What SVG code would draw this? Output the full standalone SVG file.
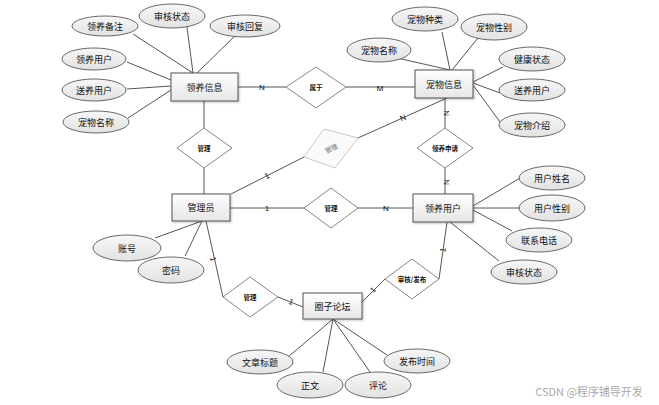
<svg xmlns="http://www.w3.org/2000/svg" width="659" height="405" viewBox="0 0 659 405">
<defs>
<linearGradient id="rg" x1="0" y1="0" x2="0" y2="1"><stop offset="0" stop-color="#ffffff"/><stop offset="1" stop-color="#e6e6e6"/></linearGradient>
<linearGradient id="eg" x1="0" y1="0" x2="0" y2="1"><stop offset="0" stop-color="#f7f7f7"/><stop offset="1" stop-color="#e2e2e2"/></linearGradient>
<filter id="sh" x="-20%" y="-20%" width="140%" height="140%"><feDropShadow dx="1" dy="1" stdDeviation="0.8" flood-color="#000" flood-opacity="0.25"/></filter>
</defs>
<style>
text{font-family:"Noto Sans CJK SC","Liberation Sans",sans-serif;fill:#111;text-anchor:middle;dominant-baseline:central}
.r{fill:url(#rg);stroke:#555;stroke-width:1;filter:url(#sh)}
.e{fill:url(#eg);stroke:#444;stroke-width:0.8}
.d{fill:#fff;stroke:#666;stroke-width:0.8}
.t{font-size:9px}
.dt{font-size:6.5px;font-weight:bold}
.lbl{font-size:8px;font-family:"Liberation Sans",sans-serif}
.c line{stroke:#555;stroke-width:1}
</style>
<rect width="659" height="405" fill="#fff"/>
<g id="connectors" class="c">
<line x1="133" y1="34" x2="193" y2="73"/>
<line x1="187" y1="27" x2="193" y2="73"/>
<line x1="238" y1="33" x2="197" y2="73"/>
<line x1="127" y1="62" x2="171" y2="80"/>
<line x1="127" y1="89" x2="171" y2="86"/>
<line x1="128" y1="118" x2="171" y2="90"/>
<line x1="204" y1="101" x2="204" y2="128"/>
<line x1="204" y1="168" x2="204" y2="194"/>
<line x1="238" y1="87" x2="286" y2="87"/>
<line x1="346" y1="87" x2="415" y2="87"/>
<line x1="397" y1="58" x2="450" y2="70"/>
<line x1="442" y1="32" x2="450" y2="70"/>
<line x1="478" y1="38" x2="452" y2="70"/>
<line x1="503" y1="67" x2="473" y2="82"/>
<line x1="500" y1="93" x2="473" y2="83"/>
<line x1="500" y1="122" x2="473" y2="85"/>
<line x1="445" y1="98" x2="445" y2="128"/>
<line x1="445" y1="168" x2="445" y2="194"/>
<line x1="231" y1="194" x2="304" y2="157"/>
<line x1="358" y1="138" x2="447" y2="98"/>
<line x1="230" y1="208" x2="304" y2="208"/>
<line x1="358" y1="208" x2="413" y2="208"/>
<line x1="520" y1="178" x2="473" y2="206"/>
<line x1="520" y1="208" x2="473" y2="208"/>
<line x1="512" y1="231" x2="473" y2="210"/>
<line x1="499" y1="261" x2="450" y2="222"/>
<line x1="155" y1="238" x2="202" y2="221"/>
<line x1="185" y1="256" x2="202" y2="221"/>
<line x1="206" y1="221" x2="223" y2="297"/>
<line x1="278" y1="297" x2="303" y2="307"/>
<line x1="362" y1="302" x2="385" y2="279"/>
<line x1="439" y1="279" x2="447" y2="222"/>
<line x1="288" y1="357" x2="333" y2="319"/>
<line x1="323" y1="372" x2="333" y2="319"/>
<line x1="370" y1="372" x2="333" y2="319"/>
<line x1="387" y1="355" x2="333" y2="319"/>
</g>
<g id="labels">
<text class="lbl" x="262" y="87">N</text>
<text class="lbl" x="380" y="88">M</text>
<text class="lbl" x="446" y="113" transform="rotate(-90 446 113)">N</text>
<text class="lbl" x="446" y="182" transform="rotate(-90 446 182)">N</text>
<text class="lbl" x="267" y="176" transform="rotate(-27 267 176)">1</text>
<text class="lbl" x="403" y="118" transform="rotate(-24 403 118)">N</text>
<text class="lbl" x="267" y="208">1</text>
<text class="lbl" x="386" y="208">N</text>
<text class="lbl" x="213" y="259" font-size="5" transform="rotate(77 213 259)">1</text>
<text class="lbl" x="291" y="302" font-size="5" transform="rotate(22 291 302)">1</text>
<text class="lbl" x="373" y="290" font-size="5" transform="rotate(-45 373 290)">1</text>
<text class="lbl" x="443" y="250" font-size="5" transform="rotate(-82 443 250)">1</text>
</g>
<g id="e-lyinfo">
<rect class="r" x="171" y="73" width="67" height="28"/>
<text class="t" x="204.5" y="87">领养信息</text>
</g>
<g id="e-petinfo">
<rect class="r" x="415" y="70" width="58" height="28"/>
<text class="t" x="444" y="84">宠物信息</text>
</g>
<g id="e-admin">
<rect class="r" x="172" y="194" width="58" height="27"/>
<text class="t" x="201" y="207.5">管理员</text>
</g>
<g id="e-lyuser">
<rect class="r" x="413" y="194" width="60" height="28"/>
<text class="t" x="443" y="208">领养用户</text>
</g>
<g id="e-forum">
<rect class="r" x="303" y="293" width="59" height="26"/>
<text class="t" x="332.5" y="306">圈子论坛</text>
</g>
<g id="r-shuyu"><polygon class="d" points="316,67 346,87 316,108 286,87"/><text class="dt" x="316" y="87">属于</text></g>
<g id="r-guanli1"><polygon class="d" points="204,128 232,148 204,168 177,148"/><text class="dt" x="204" y="148">管理</text></g>
<g id="r-guanli2"><polygon fill="#fafafa" stroke="#bbb" stroke-width="0.8" points="324,129 358,138 335,168 304,157"/><text class="dt" x="331" y="148" style="fill:#999" transform="rotate(-25 331 148)">管理</text></g>
<g id="r-lysq"><polygon class="d" points="445,128 473,148 445,168 417,148"/><text class="dt" x="445" y="148">领养申请</text></g>
<g id="r-guanli3"><polygon class="d" points="331,188 358,208 331,228 304,208"/><text class="dt" x="331" y="208">管理</text></g>
<g id="r-guanli4"><polygon class="d" points="250,277 278,297 250,317 223,297"/><text class="dt" x="250" y="297">管理</text></g>
<g id="r-shfb"><polygon class="d" points="412,259 439,279 412,299 385,279"/><text class="dt" x="412" y="279">审核/发布</text></g>
<g id="a-lybz"><ellipse class="e" cx="105" cy="26" rx="33" ry="10"/><text class="t" x="105" y="26">领养备注</text></g>
<g id="a-shzt1"><ellipse class="e" cx="172" cy="16" rx="33" ry="12"/><text class="t" x="172" y="16">审核状态</text></g>
<g id="a-shhf"><ellipse class="e" cx="245" cy="26" rx="35" ry="11"/><text class="t" x="245" y="26">审核回复</text></g>
<g id="a-lyyh"><ellipse class="e" cx="94" cy="59" rx="32" ry="11"/><text class="t" x="94" y="59">领养用户</text></g>
<g id="a-syyh1"><ellipse class="e" cx="94" cy="90" rx="32" ry="11"/><text class="t" x="94" y="90">送养用户</text></g>
<g id="a-cwmc1"><ellipse class="e" cx="96" cy="122" rx="33" ry="11"/><text class="t" x="96" y="122">宠物名称</text></g>
<g id="a-cwzl"><ellipse class="e" cx="425" cy="19" rx="33" ry="12"/><text class="t" x="425" y="19">宠物种类</text></g>
<g id="a-cwxb"><ellipse class="e" cx="494" cy="27" rx="33" ry="13"/><text class="t" x="494" y="27">宠物性别</text></g>
<g id="a-cwmc2"><ellipse class="e" cx="379" cy="50" rx="32" ry="12"/><text class="t" x="379" y="50">宠物名称</text></g>
<g id="a-jkzt"><ellipse class="e" cx="532" cy="59" rx="33" ry="12"/><text class="t" x="532" y="59">健康状态</text></g>
<g id="a-syyh2"><ellipse class="e" cx="532" cy="90" rx="33" ry="11"/><text class="t" x="532" y="90">送养用户</text></g>
<g id="a-cwjs"><ellipse class="e" cx="532" cy="125" rx="33" ry="12"/><text class="t" x="532" y="125">宠物介绍</text></g>
<g id="a-yhxm"><ellipse class="e" cx="552" cy="178" rx="33" ry="12"/><text class="t" x="552" y="178">用户姓名</text></g>
<g id="a-yhxb"><ellipse class="e" cx="552" cy="208" rx="33" ry="13"/><text class="t" x="552" y="208">用户性别</text></g>
<g id="a-lxdh"><ellipse class="e" cx="539" cy="240" rx="33" ry="12"/><text class="t" x="539" y="240">联系电话</text></g>
<g id="a-shzt2"><ellipse class="e" cx="524" cy="272" rx="33" ry="12"/><text class="t" x="524" y="272">审核状态</text></g>
<g id="a-zh"><ellipse class="e" cx="127" cy="248" rx="34" ry="13"/><text class="t" x="127" y="248">账号</text></g>
<g id="a-mm"><ellipse class="e" cx="171" cy="270" rx="33" ry="13"/><text class="t" x="171" y="270">密码</text></g>
<g id="a-wzbt"><ellipse class="e" cx="260" cy="362" rx="33" ry="12"/><text class="t" x="260" y="362">文章标题</text></g>
<g id="a-zw"><ellipse class="e" cx="310" cy="385" rx="33" ry="13"/><text class="t" x="310" y="385">正文</text></g>
<g id="a-pl"><ellipse class="e" cx="378" cy="385" rx="33" ry="13"/><text class="t" x="378" y="385">评论</text></g>
<g id="a-fbsj"><ellipse class="e" cx="417" cy="361" rx="33" ry="12"/><text class="t" x="417" y="361">发布时间</text></g>
<text x="589" y="391" style="font-size:11px;fill:#aaa">CSDN @程序铺导开发</text>
</svg>
